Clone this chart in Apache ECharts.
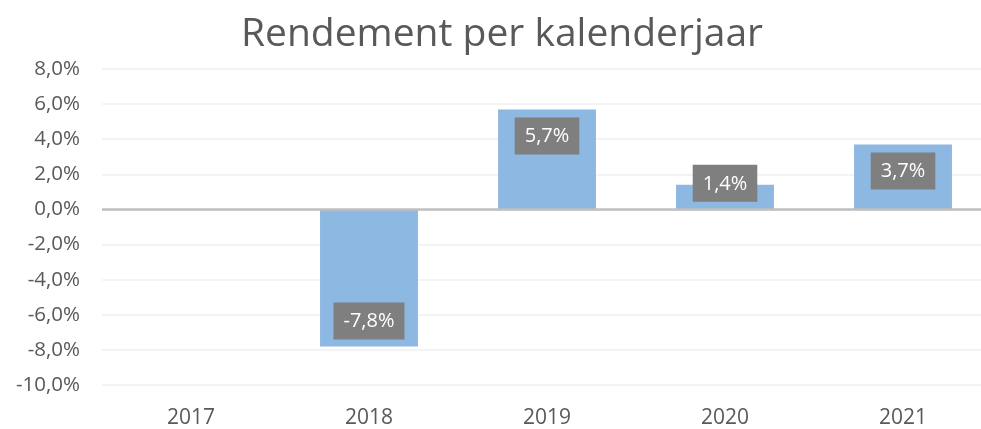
<!DOCTYPE html>
<html lang="nl">
<head>
    <meta charset="utf-8">
    <title>Rendement per kalenderjaar</title>
    <script src="https://cdn.jsdelivr.net/npm/echarts@6/dist/echarts.min.js"></script>
    <style>
        html, body { margin: 0; padding: 0; background: #fff; overflow: hidden; }
        /* the plot area runs a little past the right edge of the window, as in the original */
        #chart { width: 1000px; height: 429px; }
    </style>
</head>
<body>
<div id="chart"></div>
<script>
    var years = ['2017', '2018', '2019', '2020', '2021'];
    var rendement = [null, -7.8, 5.7, 1.4, 3.7];

    function pct(v) {
        return v.toFixed(1).replace('.', ',') + '%';
    }

    // label placement per bar, like Excel's "inside end"
    var barData = rendement.map(function (v) {
        if (v === null) return '-';
        var lab;
        if (v < 0) lab = { position: 'insideBottom', distance: 7 };
        else if (v < 2) lab = { position: 'insideTop', distance: 0, offset: [0, -20] };
        else lab = { position: 'insideTop', distance: 8 };
        return { value: v, label: lab };
    });

    var chart = echarts.init(document.getElementById('chart'));
    chart.setOption({
        animation: false,
        textStyle: { fontFamily: '"Open Sans", sans-serif' },
        title: {
            text: 'Rendement per kalenderjaar',
            left: 497,
            textAlign: 'center',
            top: 10,
            textStyle: { fontSize: 39, fontWeight: 'normal', color: '#595959', fontFamily: '"Open Sans", sans-serif' }
        },
        grid: { left: 102, top: 69, width: 890, height: 318 },
        xAxis: {
            type: 'category',
            data: years,
            axisLine: { show: false },
            axisTick: { show: false },
            axisLabel: { color: '#595959', fontSize: 21, margin: 23 }
        },
        yAxis: {
            type: 'value',
            min: -10,
            max: 8,
            interval: 2,
            axisLine: { show: false },
            axisTick: { show: false },
            axisLabel: { color: '#595959', fontSize: 20.5, margin: 22, formatter: pct },
            splitLine: { lineStyle: { color: '#efefef', width: 1.5 } }
        },
        series: [{
            type: 'bar',
            data: barData,
            barCategoryGap: '45%',
            itemStyle: { color: '#8db8e2' },
            label: {
                show: true,
                color: '#fff',
                fontSize: 20,
                lineHeight: 24,
                backgroundColor: '#7f7f7f',
                padding: [7, 10, 6, 10],
                formatter: function (p) { return pct(p.value); }
            },
            markLine: {
                silent: true,
                symbol: 'none',
                label: { show: false },
                lineStyle: { color: '#bfbfbf', width: 2.5, type: 'solid' },
                data: [{ yAxis: 0 }]
            }
        }]
    });
</script>
</body>
</html>
